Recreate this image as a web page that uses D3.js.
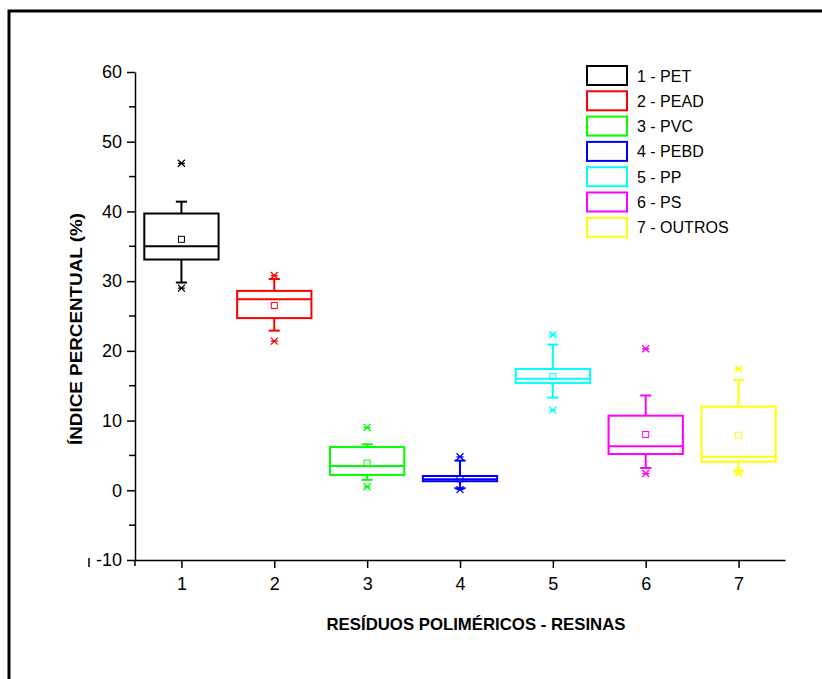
<!DOCTYPE html>
<html>
<head>
<meta charset="utf-8">
<script src="https://cdn.jsdelivr.net/npm/d3@7"></script>
<style>
  body { margin: 0; background: #fff; }
  text { font-family: "Liberation Sans", Arial, sans-serif; }
</style>
</head>
<body>
<div id="chart"></div>
<script>
// box data
var categories = ["1 - PET", "2 - PEAD", "3 - PVC", "4 - PEBD", "5 - PP", "6 - PS", "7 - OUTROS"];
var positions = [1, 2, 3, 4, 5, 6, 7];
var colors = ["#000000", "#ff0000", "#00ff00", "#0000ff", "#00ffff", "#ff00ff", "#ffff00"];
var q1 = [33.1, 24.7, 2.2, 1.3, 15.4, 5.2, 4.1];
var median = [35.0, 27.4, 3.5, 1.6, 16.0, 6.3, 4.8];
var q3 = [39.7, 28.6, 6.2, 2.05, 17.4, 10.7, 12.0];
var mean = [36.0, 26.5, 3.9, 1.65, 16.3, 8.0, 7.9];
var whiskerLow = [29.8, 22.9, 1.5, 0.3, 13.3, 3.2, 2.8];
var whiskerHigh = [41.4, 30.3, 6.6, 4.25, 20.9, 13.6, 15.8];
var minVal = [29.0, 21.4, 0.5, 0.1, 11.5, 2.4, 2.4];
var maxVal = [46.9, 30.8, 9.0, 4.8, 22.3, 20.3, 17.4];
var xTicks = [1, 2, 3, 4, 5, 6, 7];
var yTicks = [-10, 0, 10, 20, 30, 40, 50, 60];
var yMinorTicks = [-5, 5, 15, 25, 35, 45, 55];

var W = 822, H = 679;
var svg = d3.select("#chart").append("svg").attr("width", W).attr("height", H);

// outer frame (only top and left edges visible)
svg.append("path")
    .attr("d", "M9,679 L9,11 L822,11")
    .style("fill", "none").style("stroke", "#000").style("stroke-width", 3);

var x = d3.scaleLinear().domain([0.5, 7.5]).range([135, 785]);
var y = d3.scaleLinear().domain([-10, 60]).range([560, 72]);

// y axis
var yAxis = svg.append("g").attr("transform", "translate(" + x(0.5) + ",0)")
    .call(d3.axisLeft(y).tickValues(yTicks).tickSize(8).tickSizeOuter(0).tickPadding(5)
        .tickFormat(function(d) { return d < 0 ? "-" + Math.abs(d) : d; }));
yAxis.selectAll("text").style("font-size", "18px").style("fill", "#000");
yAxis.selectAll("line, path").style("stroke", "#000").style("stroke-width", 1.5);
yAxis.selectAll(".minor").data(yMinorTicks).enter().append("line")
    .attr("x1", -6).attr("x2", 0)
    .attr("y1", function(d) { return y(d); }).attr("y2", function(d) { return y(d); })
    .style("stroke", "#000").style("stroke-width", 1.5);

// x axis
var xAxis = svg.append("g").attr("transform", "translate(0," + y(-10) + ")")
    .call(d3.axisBottom(x).tickValues(xTicks).tickSize(8).tickSizeOuter(0).tickPadding(9)
        .tickFormat(d3.format("d")));
xAxis.selectAll("text").style("font-size", "18px").style("fill", "#000");
xAxis.selectAll("line, path").style("stroke", "#000").style("stroke-width", 1.5);
// little cross at the corner
xAxis.append("line").attr("x1", x(0.5)).attr("x2", x(0.5)).attr("y1", 0).attr("y2", 6)
    .style("stroke", "#000").style("stroke-width", 1.5);
svg.append("line").attr("x1", 89).attr("x2", 89).attr("y1", 558).attr("y2", 567)
    .style("stroke", "#000").style("stroke-width", 1.5);

// axis titles
svg.append("text")
    .attr("transform", "translate(82,329) rotate(-90)")
    .attr("text-anchor", "middle")
    .attr("textLength", 232).attr("lengthAdjust", "spacingAndGlyphs")
    .style("font-size", "17px").style("font-weight", "bold")
    .text("ÍNDICE PERCENTUAL (%)");
svg.append("text")
    .attr("x", 476).attr("y", 630)
    .attr("text-anchor", "middle")
    .attr("textLength", 299).attr("lengthAdjust", "spacingAndGlyphs")
    .style("font-size", "17px").style("font-weight", "bold")
    .text("RESÍDUOS POLIMÉRICOS - RESINAS");

// boxes
var boxW = 0.8, capW = 0.12, mk = 3.5;
var boxes = svg.append("g");
positions.forEach(function(p, i) {
    var g = boxes.append("g").style("stroke", colors[i]).style("fill", "none");
    var cx = x(p);
    // whiskers
    g.append("line").attr("x1", cx).attr("x2", cx).attr("y1", y(q3[i])).attr("y2", y(whiskerHigh[i])).style("stroke-width", 2);
    g.append("line").attr("x1", cx).attr("x2", cx).attr("y1", y(q1[i])).attr("y2", y(whiskerLow[i])).style("stroke-width", 2);
    [whiskerHigh[i], whiskerLow[i]].forEach(function(v) {
        g.append("line").attr("x1", x(p - capW / 2)).attr("x2", x(p + capW / 2))
            .attr("y1", y(v)).attr("y2", y(v)).style("stroke-width", 2);
    });
    // box
    g.append("rect")
        .attr("x", x(p - boxW / 2)).attr("width", x(p + boxW / 2) - x(p - boxW / 2))
        .attr("y", y(q3[i])).attr("height", y(q1[i]) - y(q3[i]))
        .style("stroke-width", 2);
    g.append("line").attr("x1", x(p - boxW / 2)).attr("x2", x(p + boxW / 2))
        .attr("y1", y(median[i])).attr("y2", y(median[i])).style("stroke-width", 2);
    // mean
    g.append("rect").attr("x", cx - 3).attr("y", y(mean[i]) - 3).attr("width", 6).attr("height", 6)
        .style("stroke-width", 1);
    // min / max: cross plus dash
    [minVal[i], maxVal[i]].forEach(function(v) {
        var yy = y(v);
        g.append("path")
            .attr("d", "M" + (cx - mk) + "," + (yy - mk) + "L" + (cx + mk) + "," + (yy + mk) +
                "M" + (cx - mk) + "," + (yy + mk) + "L" + (cx + mk) + "," + (yy - mk) +
                "M" + (cx - mk) + "," + yy + "L" + (cx + mk) + "," + yy)
            .style("stroke-width", 1.3);
    });
});

// legend
var legend = svg.append("g").attr("transform", "translate(587,66)");
categories.forEach(function(c, i) {
    var row = legend.append("g").attr("transform", "translate(0," + (i * 25.3) + ")");
    row.append("rect").attr("x", 0).attr("y", 0).attr("width", 40).attr("height", 19)
        .style("fill", "none").style("stroke", colors[i]).style("stroke-width", 2);
    row.append("text").attr("x", 50).attr("y", 15.5)
        .style("font-size", "16px").text(c);
});
</script>
</body>
</html>
